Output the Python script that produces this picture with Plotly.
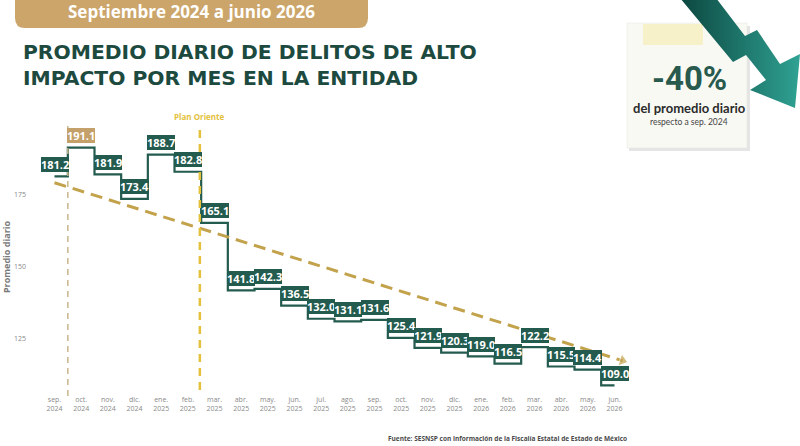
import plotly.graph_objects as go

# ---------------- data ----------------
months = ["sep.<br>2024", "oct.<br>2024", "nov.<br>2024", "dic.<br>2024", "ene.<br>2025",
          "feb.<br>2025", "mar.<br>2025", "abr.<br>2025", "may.<br>2025", "jun.<br>2025",
          "jul.<br>2025", "ago.<br>2025", "sep.<br>2025", "oct.<br>2025", "nov.<br>2025",
          "dic.<br>2025", "ene.<br>2026", "feb.<br>2026", "mar.<br>2026", "abr.<br>2026",
          "may.<br>2026", "jun.<br>2026"]
values = [181.2, 191.1, 181.9, 173.4, 188.7, 182.8, 165.1, 141.8, 142.3, 136.5, 132.0,
          131.1, 131.6, 125.4, 121.9, 120.3, 119.0, 116.5, 122.2, 115.5, 114.4, 109.0]
trend_x = [0.0, 21.3]
trend_y = [179.0, 117.5]
y_ticks = [125, 150, 175]
highlight_index = 1          # oct. 2024 (máximo)
start_marker_x = 0.5         # línea entre sep. y oct. 2024
plan_oriente_x = 5.45        # inicio del Plan Oriente

# ---------------- style ----------------
W, H = 800, 446
GREEN = "#235b4e"
DARK = "#1d4a3f"
GOLD = "#c4a06a"
TREND = "#c3a24c"
YELLOW = "#e3c13c"

def X(px):
    return px / W

def Y(py):
    return 1 - py / H

xs = list(range(len(values)))

fig = go.Figure()

# step line
fig.add_trace(go.Scatter(x=xs, y=values, mode="lines", line=dict(color=GREEN, width=2.2, shape="hvh"),
                         hoverinfo="skip", showlegend=False))

# trend line with arrow head
fig.add_trace(go.Scatter(x=trend_x, y=trend_y, mode="lines+markers",
                         line=dict(color=TREND, width=3, dash="12px,7px"),
                         marker=dict(symbol="triangle-up", size=[0, 11], color=TREND, angleref="previous"),
                         hoverinfo="skip", showlegend=False))

# decorative arrow (pixel coordinates on hidden full-page axes)
arrow_x = [680, 716, 745, 757, 780, 800, 795, 750, 766, 746, 733, 680]
arrow_y = [-2, -2, 36, 30, 64, 54, 108, 90, 80, 55, 62, -2]
fig.add_trace(go.Scatter(x=arrow_x, y=arrow_y, xaxis="x2", yaxis="y2", mode="lines", fill="toself",
                         line=dict(width=0, color="rgba(0,0,0,0)"),
                         fillgradient=dict(type="horizontal",
                                           colorscale=[[0, "#0c4740"], [1, "#2fa293"]]),
                         hoverinfo="skip", showlegend=False))

annotations = []
# value labels
for i, v in enumerate(values):
    annotations.append(dict(x=i, y=v, xref="x", yref="y", text=f"<b>{v:.1f}</b>", showarrow=False,
                            yshift=12, bgcolor=GOLD if i == highlight_index else GREEN,
                            font=dict(family="Open Sans", size=11, color="white"),
                            borderpad=0, borderwidth=0))

def txt(px, py, text, font, xanchor="center", **kw):
    d = dict(x=X(px), y=Y(py), xref="paper", yref="paper", text=text, showarrow=False,
             xanchor=xanchor, yanchor="middle", font=font)
    d.update(kw)
    return d

annotations += [
    txt(191, 12, "<b>Septiembre 2024 a junio 2026</b>", dict(family="Open Sans", size=17, color="white")),
    txt(21, 52, "PROMEDIO DIARIO DE DELITOS DE ALTO", dict(family="DejaVu Sans", size=20.3, color=DARK, weight=700),
        xanchor="left"),
    txt(21, 78, "IMPACTO POR MES EN LA ENTIDAD", dict(family="DejaVu Sans", size=20.3, color=DARK, weight=700),
        xanchor="left"),
    txt(689, 79, "<b>-40%</b>", dict(family="Roboto", size=33, color="#285a4e", weight=900)),
    txt(689, 108, "del promedio diario", dict(family="Lato", size=13, color="#2b2b2b", weight=700)),
    txt(689, 122, "respecto a sep. 2024", dict(family="Lato", size=8.5, color="#444444")),
    dict(x=plan_oriente_x, y=Y(117), xref="x", yref="paper", text="<b>Plan Oriente</b>", showarrow=False,
         xanchor="center", yanchor="middle", font=dict(family="Open Sans", size=8, color=YELLOW)),
    txt(507, 438, "<b>Fuente: SESNSP con información de la Fiscalía Estatal de Estado de México</b>",
        dict(family="Open Sans", size=6.5, color="#4a4a4a")),
]

shapes = [
    # header pill
    dict(type="path", xref="x2", yref="y2", layer="below",
         path="M 15 -12 L 368 -12 L 368 18 Q 368 28 358 28 L 25 28 Q 15 28 15 18 Z",
         fillcolor="#cba56a", line=dict(width=0)),
    # card shadow
    dict(type="rect", xref="x2", yref="y2", layer="below", x0=629, y0=26, x1=750, y1=151,
         fillcolor="rgba(0,0,0,0.10)", line=dict(width=0)),
    # card
    dict(type="rect", xref="x2", yref="y2", layer="below", x0=627, y0=23, x1=747, y1=148,
         fillcolor="#f9f9f4", line=dict(width=0.5, color="#e6e6e0")),
    # tape
    dict(type="rect", xref="x2", yref="y2", layer="below", x0=643, y0=24, x1=703, y1=45,
         fillcolor="#f6f1c8", line=dict(width=0)),
    # vertical reference lines
    dict(type="line", xref="x", yref="paper", x0=start_marker_x, x1=start_marker_x, y0=Y(396), y1=Y(125),
         line=dict(color="#c9b68c", width=1.5, dash="6px,5px")),
    dict(type="line", xref="x", yref="paper", x0=plan_oriente_x, x1=plan_oriente_x, y0=Y(390), y1=Y(124),
         line=dict(color=YELLOW, width=2.5, dash="8px,6px")),
]

x_left, x_right = 27, 640
px_per_month = 26.667
x0_px = 54.5
y_top, y_bot = 120, 394
y175_px, px_per_unit = 194.3, 2.894

fig.update_layout(
    width=W, height=H, margin=dict(l=0, r=0, t=0, b=0),
    paper_bgcolor="white", plot_bgcolor="rgba(0,0,0,0)",
    showlegend=False, annotations=annotations, shapes=shapes,
    xaxis=dict(domain=[X(x_left), X(x_right)],
               range=[(x_left - x0_px) / px_per_month, (x_right - x0_px) / px_per_month],
               tickvals=xs, ticktext=months, showgrid=False, zeroline=False, showline=False,
               tickfont=dict(family="Open Sans", size=7, color="#8a8a8a")),
    yaxis=dict(domain=[Y(y_bot), Y(y_top)],
               range=[175 - (y_bot - y175_px) / px_per_unit, 175 + (y175_px - y_top) / px_per_unit],
               tickvals=y_ticks, showgrid=False, zeroline=False, showline=False,
               tickfont=dict(family="Open Sans", size=7, color="#8a8a8a"),
               title=dict(text="<b>Promedio diario</b>", standoff=8,
                          font=dict(family="Open Sans", size=9, color="#7a7a7a"))),
    xaxis2=dict(domain=[0, 1], range=[0, W], anchor="y2", visible=False, fixedrange=True),
    yaxis2=dict(domain=[0, 1], range=[H, 0], anchor="x2", visible=False, fixedrange=True),
)

fig.write_html("out.html", config={"displayModeBar": False},
               post_script="document.body.style.margin='0';document.body.style.overflow='hidden';")
